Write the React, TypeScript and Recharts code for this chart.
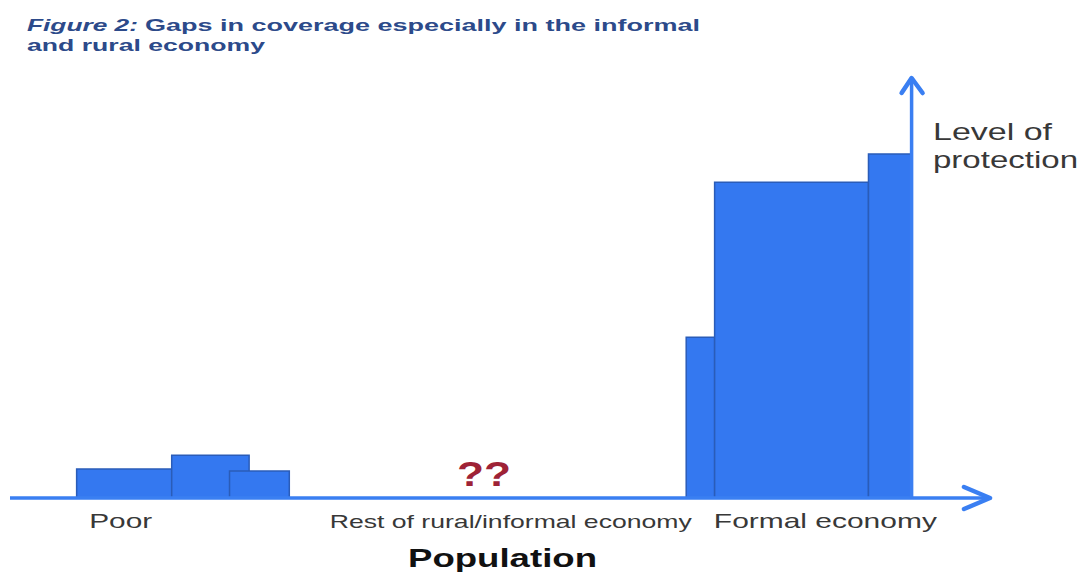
import { ComposedChart, XAxis, YAxis, ReferenceArea, ReferenceLine } from "recharts";

// population groups along the x axis (0..100 population units)
const GROUPS = ["Poor", "Rest of rural/informal economy", "Formal economy"];
const GROUP_CENTERS = [11.3, 51.1, 83.2];

// protection blocks: start / end of population share and level of protection (0..100)
const BAR_START = [6.8, 16.5, 22.4, 69.0, 71.9, 87.6];
const BAR_END = [16.5, 24.4, 28.5, 71.9, 87.6, 92.0];
const BAR_LEVEL = [6.9, 10.2, 6.4, 38.3, 75.2, 81.9];

const AXIS_X = 92;

const BLUE = "#3a7ff2";
const BAR_FILL = "#3478f0";
const BAR_STROKE = "#2a5cb8";
const FONT = "'Liberation Sans', Arial, sans-serif";

const tickStyle = [
  { size: 21, len: 63 },
  { size: 19, len: 362 },
  { size: 21, len: 223 },
];

const blocks = BAR_LEVEL.map((level, i) => ({
  x: (BAR_START[i] + BAR_END[i]) / 2,
  level,
}));

function GroupTick(props: any) {
  const { x, y, payload, index } = props;
  let i = GROUP_CENTERS.indexOf(payload.value);
  if (i < 0) i = index;
  const st = tickStyle[i] || tickStyle[0];
  return (
    <text
      x={x}
      y={y + 22}
      textAnchor="middle"
      fontFamily={FONT}
      fontSize={st.size}
      fill="#383838"
      textLength={st.len}
      lengthAdjust="spacingAndGlyphs"
    >
      {GROUPS[i]}
    </text>
  );
}

function HArrow(props: any) {
  const { x1, y1, x2 } = props;
  return (
    <g>
      <line x1={x1} y1={y1} x2={x2 - 2} y2={y1} stroke={BLUE} strokeWidth={3.5} />
      <polyline
        points={`${x2 - 26},${y1 - 11} ${x2},${y1} ${x2 - 26},${y1 + 11}`}
        fill="none"
        stroke={BLUE}
        strokeWidth={4.5}
        strokeLinejoin="round"
        strokeLinecap="round"
      />
    </g>
  );
}

function VArrow(props: any) {
  const { x1, y1, y2 } = props;
  const top = Math.min(y1, y2);
  const bottom = Math.max(y1, y2);
  return (
    <g>
      <line x1={x1} y1={bottom} x2={x1} y2={top + 2} stroke={BLUE} strokeWidth={3.5} />
      <polyline
        points={`${x1 - 10},${top + 15} ${x1},${top} ${x1 + 11},${top + 15}`}
        fill="none"
        stroke={BLUE}
        strokeWidth={4.5}
        strokeLinejoin="round"
        strokeLinecap="round"
      />
    </g>
  );
}

export default function App() {
  return (
    <div style={{ position: "absolute", left: 0, top: 0, width: 1080, height: 574, background: "#fff" }}>
      <ComposedChart
        width={1080}
        height={574}
        data={blocks}
        margin={{ top: 78, right: 90, bottom: 36, left: 10 }}
      >
        <XAxis
          dataKey="x"
          type="number"
          domain={[0, 100]}
          allowDataOverflow
          ticks={GROUP_CENTERS}
          tick={<GroupTick />}
          axisLine={false}
          tickLine={false}
          height={40}
          interval={0}
        />
        <YAxis dataKey="level" type="number" domain={[0, 100]} allowDataOverflow hide width={0} />
        {BAR_LEVEL.map((level, i) => (
          <ReferenceArea
            key={i}
            x1={BAR_START[i]}
            x2={BAR_END[i]}
            y1={0}
            y2={level}
            fill={BAR_FILL}
            fillOpacity={1}
            stroke={BAR_STROKE}
            strokeWidth={1.5}
          />
        ))}
        <ReferenceLine y={0} shape={<HArrow />} />
        <ReferenceLine
          segment={[
            { x: AXIS_X, y: 0 },
            { x: AXIS_X, y: 100 },
          ]}
          shape={<VArrow />}
        />
      </ComposedChart>
      <svg
        width={1080}
        height={574}
        style={{ position: "absolute", left: 0, top: 0, pointerEvents: "none" }}
      >
        <g fontFamily={FONT} fontWeight="bold" fontSize={17} fill="#2c4a8a">
          <text x={27} y={31} fontStyle="italic" textLength={111} lengthAdjust="spacingAndGlyphs">
            Figure 2:
          </text>
          <text x={145} y={31} textLength={555} lengthAdjust="spacingAndGlyphs">
            Gaps in coverage especially in the informal
          </text>
          <text x={27} y={51} textLength={238} lengthAdjust="spacingAndGlyphs">
            and rural economy
          </text>
        </g>
        <text
          x={484}
          y={486}
          textAnchor="middle"
          fontFamily={FONT}
          fontWeight="bold"
          fontSize={35}
          fill="#9e2236"
          textLength={54}
          lengthAdjust="spacingAndGlyphs"
        >
          ??
        </text>
        <g fontFamily={FONT} fontSize={24} fill="#383838">
          <text x={933} y={140} textLength={119} lengthAdjust="spacingAndGlyphs">
            Level of
          </text>
          <text x={933} y={168} textLength={145} lengthAdjust="spacingAndGlyphs">
            protection
          </text>
        </g>
        <text
          x={408}
          y={567}
          fontFamily={FONT}
          fontWeight="bold"
          fontSize={26}
          fill="#111"
          textLength={189}
          lengthAdjust="spacingAndGlyphs"
        >
          Population
        </text>
      </svg>
    </div>
  );
}
